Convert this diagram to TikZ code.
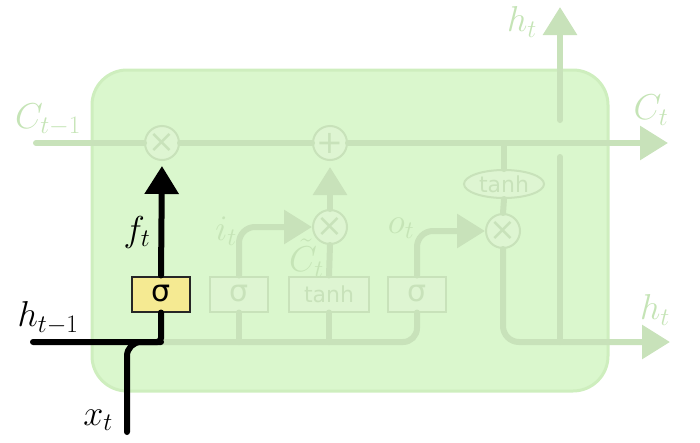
\RequirePackage{fix-cm}
\documentclass[tikz,border=0pt]{standalone}
\usepackage{fontspec}
\newfontfamily\gatefont{DejaVu Sans}
\usetikzlibrary{arrows.meta,shapes.geometric}
\definecolor{cellfill}{RGB}{218,247,205}
\definecolor{cellborder}{RGB}{206,238,190}
\definecolor{faded}{RGB}{200,226,186}
\definecolor{fadedtext}{RGB}{197,228,182}
\definecolor{gatefill}{RGB}{222,245,210}
\definecolor{sigyellow}{RGB}{245,234,146}
\begin{document}
\begin{tikzpicture}[x=1pt,y=-1pt,
  pipe/.style={draw=faded, line width=6pt, line cap=round},
  blackpipe/.style={draw=black, line width=6pt, line cap=round},
  tip/.style={-{Triangle[length=28pt,width=33pt]}},
  opcircle/.style={circle, draw=faded, line width=2pt, fill=gatefill, minimum size=34pt, inner sep=0pt, text=faded, font=\gatefont\fontsize{32}{32}\selectfont},
  gatebox/.style={rectangle, draw=faded, line width=2pt, fill=gatefill, minimum height=35pt, minimum width=58pt, inner sep=0pt, text=faded, font=\gatefont\fontsize{30}{30}\selectfont},
  tanhfont/.style={font=\gatefont\fontsize{22}{22}\selectfont},
  lbl/.style={text=fadedtext, inner sep=0pt, font=\fontsize{36}{40}\selectfont},
  blbl/.style={text=black, inner sep=0pt, font=\fontsize{36}{40}\selectfont}]
\useasboundingbox (0,0) rectangle (700,442);
% cell
\node[draw=cellborder, line width=3pt, fill=cellfill, rounded corners=35pt, minimum width=516pt, minimum height=321pt, inner sep=0pt] (cell) at (350,230.5) {};
% operation circles
\node[opcircle] (m1) at (162,143) {×};
\node[opcircle] (a1) at (330,143) {+};
\node[opcircle] (m2) at (330,227) {×};
\node[opcircle] (m3) at (503,231) {×};
\node[ellipse, draw=faded, line width=2pt, fill=gatefill, minimum width=80pt, minimum height=28pt, inner sep=0pt, text=faded, tanhfont] (th) at (504,184) {tanh};
% gate boxes
\node[gatebox] (ibox) at (239,294) {σ};
\node[gatebox, minimum width=80pt, tanhfont] (tbox) at (329,294) {tanh};
\node[gatebox] (obox) at (417,294) {σ};
% coordinates
\coordinate (cin) at (36,143);
\coordinate (cout) at (668,143);
\coordinate (cth) at (504,143);
\coordinate (hin) at (33,342);
\coordinate (corner) at (161,342);
\coordinate (hout) at (670,342);
\coordinate (xin) at (127,432);
\coordinate (vlow) at (560,157);
\coordinate (vjoin) at (560,342);
\coordinate (vup) at (560,120);
\coordinate (htop) at (560,7);
% cell state
\draw[pipe] (cin) -- (m1.west);
\draw[pipe] (m1.east) -- (a1.west);
\draw[pipe, tip] (a1.east) -- (cout);
% bottom line and gates
\draw[pipe, rounded corners=14pt] (corner) -| (obox.south);
\draw[pipe] (ibox.south |- corner) -- (ibox.south);
\draw[pipe] (tbox.south |- corner) -- (tbox.south);
\draw[pipe, tip, rounded corners=16pt] (ibox.north) |- (m2.west);
\draw[pipe] (tbox.north) -- (m2.south);
\draw[pipe, tip, shorten >=6pt] (m2.north) -- (a1.south);
\draw[pipe, tip, rounded corners=16pt] (obox.north) |- (m3.west);
\draw[pipe] (cth) -- (th.north);
\draw[pipe] (th.south) -- (m3.north);
\draw[pipe, tip, rounded corners=16pt] (m3.south) |- (hout);
\draw[pipe] (vlow) -- (vjoin);
\draw[pipe, tip] (vup) -- (htop);
% forget gate (highlighted)
\node[rectangle, draw=black!85, line width=2pt, fill=sigyellow, minimum height=35pt, minimum width=58pt, inner sep=0pt, font=\gatefont\fontsize{30}{30}\selectfont] (fbox) at (161,294) {σ};
\draw[blackpipe, rounded corners=14pt] (xin) |- (corner);
\draw[blackpipe, rounded corners=4pt] (hin) -- (corner) -- (fbox.south);
\draw[blackpipe, tip, shorten >=5pt] (fbox.north) -- (m1.south);
% labels
\node[lbl] (lc1) at (48,120) {$C_{t-1}$};
\node[lbl] (lct) at (651,110) {$C_t$};
\node[lbl] (lht) at (522,22) {$h_t$};
\node[lbl] (lhr) at (655,310) {$h_t$};
\node[lbl] (lit) at (226,231) {$i_t$};
\node[lbl, anchor=east] (lctt) at (324,258) {$\tilde{C}_t$};
\node[lbl] (lot) at (401,228) {$o_t$};
\node[blbl] (lft) at (137,232) {$f_t$};
\node[blbl] (lh1) at (48,318) {$h_{t-1}$};
\node[blbl] (lxt) at (98,420) {$x_t$};
\end{tikzpicture}
\end{document}
